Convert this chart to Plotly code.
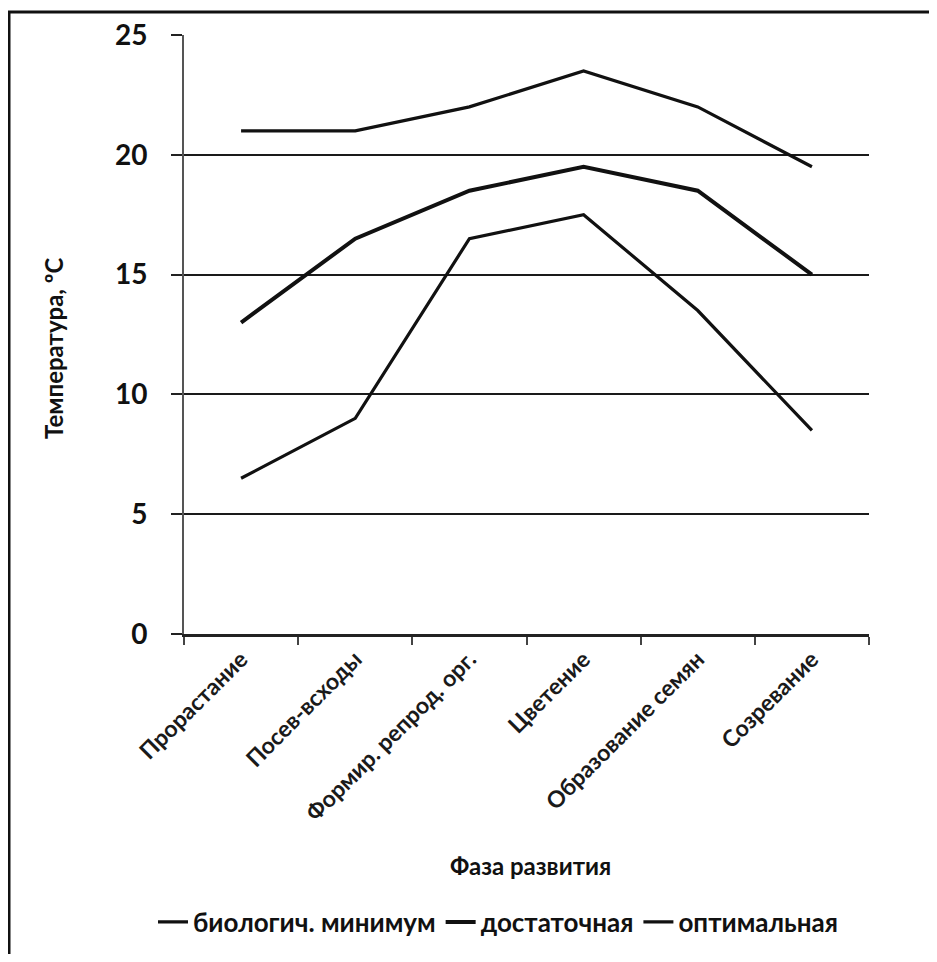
import plotly.graph_objects as go

phases = ["Прорастание", "Посев-всходы", "Формир. репрод. орг.", "Цветение", "Образование семян", "Созревание"]
bio_min = [6.5, 9, 16.5, 17.5, 13.5, 8.5]
sufficient = [13, 16.5, 18.5, 19.5, 18.5, 15]
optimal = [21, 21, 22, 23.5, 22, 19.5]
series_names = ["биологич. минимум", "достаточная", "оптимальная"]
y_ticks = [0, 5, 10, 15, 20, 25]

# page has 8px body margin; figure coordinates = page - 8
W, H = 921, 946
L, R, T, B = 176, 861, 27, 626

def px(x_page):
    return (x_page - 8 - L) / (R - L)

def py(y_page):
    return (B - (y_page - 8)) / (B - T)

fig = go.Figure()
for name, vals, w in zip(series_names, [bio_min, sufficient, optimal], [3.2, 4, 3.2]):
    fig.add_trace(go.Scatter(x=phases, y=vals, mode="lines", name=name,
                             line=dict(color="#111111", width=w)))

fig.update_layout(
    width=W, height=H,
    margin=dict(l=L, r=W - R, t=T, b=H - B, autoexpand=False),
    paper_bgcolor="white", plot_bgcolor="white",
    font=dict(family="Lato", color="#111111"),
    showlegend=True,
    legend=dict(orientation="h", xref="container", yref="container",
                x=(498 - 8) / W, xanchor="center", y=1 - (922 - 8) / H, yanchor="middle",
                font=dict(size=26, family="Lato", color="#111111", weight="bold"),
                itemwidth=30, tracegroupgap=0,
                bgcolor="rgba(0,0,0,0)"),
    xaxis=dict(tickangle=-45, tickfont=dict(size=23, color="#1a1a1a", weight="bold"),
               showline=True, linecolor="#222222", linewidth=2.5, automargin=False,
               ticks="outside", tickson="boundaries", ticklen=8, tickcolor="#444444", tickwidth=2,
               showgrid=False, range=[-0.5, 5.5]),
    yaxis=dict(range=[0, 25], tickvals=y_ticks, tickfont=dict(size=28, color="#111111", weight="bold"),
               showgrid=True, gridcolor="#1a1a1a", gridwidth=2, automargin=False,
               showline=True, linecolor="#555555", linewidth=2,
               ticks="outside", ticklen=11, tickcolor="#222222", tickwidth=2, zeroline=False,
               ticklabelstandoff=18),
    annotations=[
        dict(text="<b>Температура, ºС</b>", x=px(53), y=py(349), xref="paper", yref="paper",
             xanchor="center", yanchor="middle",
             showarrow=False, textangle=-90, font=dict(size=24, color="#111111")),
        dict(text="<b>Фаза развития</b>", x=px(530), y=py(865), xref="paper", yref="paper",
             xanchor="center", yanchor="middle",
             showarrow=False, font=dict(size=24, color="#111111")),
    ],
    shapes=[
        dict(type="line", xref="paper", yref="paper", x0=px(7), x1=px(945), y0=py(12), y1=py(12),
             line=dict(color="#111111", width=3)),
        dict(type="line", xref="paper", yref="paper", x0=px(9), x1=px(9), y0=py(11), y1=py(970),
             line=dict(color="#111111", width=3)),
    ],
)

fig.write_html("out.html")
